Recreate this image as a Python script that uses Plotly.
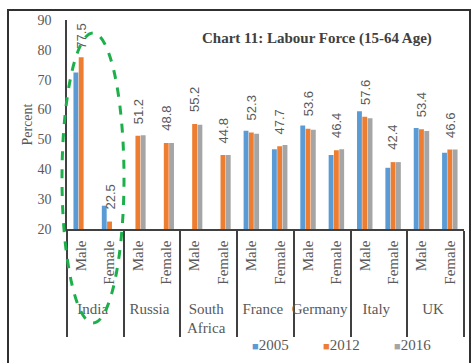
import plotly.graph_objects as go

# Labour force participation, age 15-64 (percent)
countries = ["India", "Russia", "South<br>Africa", "France", "Germany", "Italy", "UK"]
genders = ["Male", "Female"]
years = ["2005", "2012", "2016"]

v2005 = [72.4, 27.8, None, None, None, None, 52.9, 46.7, 54.7, 44.8, 59.4, 40.5, 53.8, 45.5]
v2012 = [77.5, 22.5, 51.2, 48.8, 55.2, 44.8, 52.3, 47.7, 53.6, 46.4, 57.6, 42.4, 53.4, 46.6]
v2016 = [None, None, 51.4, 48.8, 54.9, 44.8, 51.9, 48.1, 53.2, 46.7, 57.1, 42.4, 52.8, 46.6]

colors = ["#5B9BD5", "#ED7D31", "#A5A5A5"]
series = [v2005, v2012, v2016]

# rotated gender labels are kept clear of the axis line with a trailing
# non-breaking space (it ends up next to the axis once rotated)
PAD = "\u00a0"
outer = [c for c in countries for _ in genders]
inner = [g + PAD for _ in countries for g in genders]

SERIF = "Liberation Serif"
GREY = "#595959"

W, H = 471, 363
ML, MR, MT, MB = 67, 7, 20, 134
PW, PH = W - ML - MR, H - MT - MB
Y0, Y1 = 20, 90

fig = go.Figure()
for name, vals, col in zip(years, series, colors):
    fig.add_trace(go.Bar(
        x=[outer, inner], y=vals, name=name, showlegend=False,
        marker=dict(color=col, line=dict(width=0)),
    ))

# value labels for the 2012 series, rotated, sitting above the middle bar
for i, v in enumerate(v2012):
    top_px = (Y1 - v) / (Y1 - Y0) * PH
    shift = min(10, max(top_px - 31, 0))
    fig.add_annotation(
        x=i, y=v, xref="x", yref="y", text=f"{v:.1f}", showarrow=False,
        textangle=-90, yanchor="bottom", xanchor="center", yshift=shift,
        font=dict(family="Liberation Sans", size=13, color=GREY),
    )

def px_x(p):
    return (p - ML) / PW

def px_y(p):
    return (MT + PH - p) / PH

# chart title
fig.add_annotation(
    x=px_x(317), y=px_y(38), xref="paper", yref="paper",
    text="<b>Chart 11: Labour Force (15-64 Age)</b>", showarrow=False,
    font=dict(family=SERIF, size=15, color="#404040"),
    xanchor="center", yanchor="middle",
)

# legend: coloured square followed by the year
for k, (name, col) in enumerate(zip(years, colors)):
    fig.add_annotation(
        x=px_x(250 + 71 * k), y=px_y(345), xref="paper", yref="paper",
        text=f"<span style='color:{col};font-size:11px'>■</span>{name}",
        showarrow=False, xanchor="left", yanchor="middle",
        font=dict(family=SERIF, size=15, color=GREY),
    )

# outer frame
fig.add_shape(type="rect", xref="paper", yref="paper",
              x0=px_x(8), x1=px_x(470), y0=px_y(380), y1=px_y(10),
              line=dict(color="#303030", width=2), layer="above")

# highlight around India
fig.add_shape(type="circle", xref="paper", yref="paper",
              x0=px_x(62), x1=px_x(124), y0=px_y(323), y1=px_y(33),
              line=dict(color="#1DB04A", width=3, dash="dash"), layer="above")

fig.update_layout(
    width=W, height=H,
    margin=dict(l=ML, r=MR, t=MT, b=MB, pad=0),
    paper_bgcolor="white", plot_bgcolor="white",
    barmode="group", bargap=0.44, bargroupgap=0.08,
    showlegend=False,
    font=dict(family=SERIF, color=GREY),
)

fig.update_xaxes(
    type="multicategory", showline=True, linecolor="#404040", linewidth=1.5,
    showgrid=False, ticks="", tickangle=-90,
    tickfont=dict(family=SERIF, size=15, color=GREY),
    showdividers=True, dividercolor="#404040", dividerwidth=1.5,
)
fig.update_yaxes(
    range=[Y0, Y1], dtick=10, showline=True, linecolor="#404040", linewidth=1.5,
    showgrid=False, ticks="", zeroline=False, ticklabelstandoff=11,
    tickfont=dict(family=SERIF, size=14, color=GREY),
    title=dict(text="Percent", font=dict(family=SERIF, size=14, color=GREY), standoff=2),
)

fig.write_html("out.html")
